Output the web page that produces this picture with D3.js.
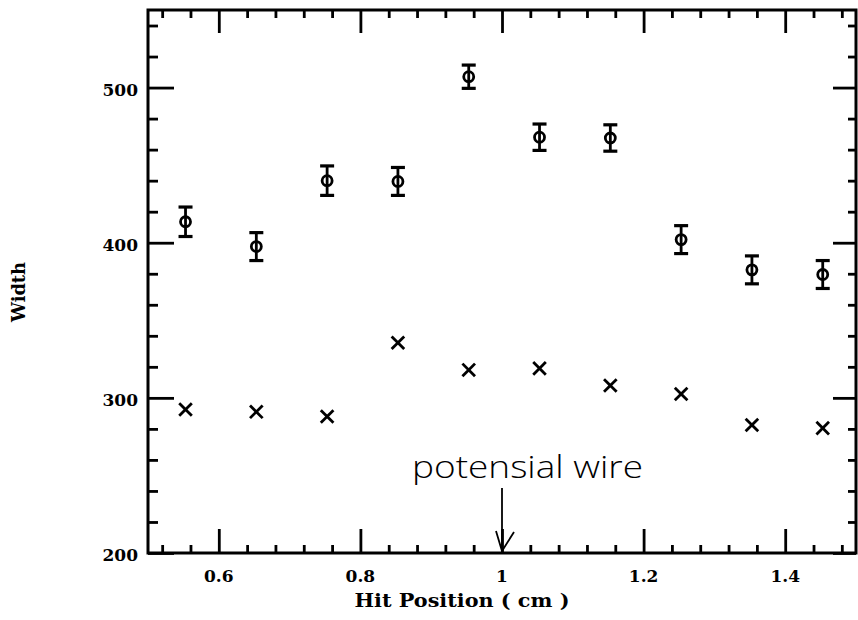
<!DOCTYPE html>
<html><head><meta charset="utf-8">
<script src="https://cdn.jsdelivr.net/npm/d3@7"></script>
<style>
html,body{margin:0;padding:0;background:#fff;}
svg{display:block;}
</style></head>
<body>
<script>
// ---- data ----
const hitPos = [0.553, 0.653, 0.753, 0.853, 0.953, 1.053, 1.153, 1.253, 1.353, 1.453];
const widthCircle = [413.5, 397.5, 440, 439.5, 507, 468, 467.5, 402, 382.5, 379.5];
const widthCircleErr = [9.5, 9, 9.5, 9, 7.5, 8.5, 8.5, 9, 9, 9];
const widthCross = [292.5, 291, 288, 335.5, 318, 319, 308, 302.5, 282.5, 280.5];
const xMajorTicks = [0.6, 0.8, 1.0, 1.2, 1.4];
const xTickLabels = ["0.6", "0.8", "1", "1.2", "1.4"];
const yMajorTicks = [200, 300, 400, 500];
const yTickLabels = ["200", "300", "400", "500"];
const xTitle = "Hit Position ( cm )";
const yTitle = "Width";
const annotation = "potensial wire";
const wireX = 1.0;

const W = 858, H = 620;
const x = d3.scaleLinear().domain([0.5, 1.5]).range([148, 856]);
const y = d3.scaleLinear().domain([200, 550]).range([553, 10]);

const svg = d3.select("body").append("svg").attr("width", W).attr("height", H);

const xMinor = d3.range(0.52, 1.5, 0.04).map(v => +v.toFixed(2)).filter(v => !xMajorTicks.some(m => Math.abs(m - v) < 1e-6));
const yMinor = d3.range(220, 550, 20).filter(v => !yMajorTicks.includes(v));

function styleAxis(g) {
  g.select(".domain").remove();
  g.selectAll(".tick line").attr("stroke", "#000").attr("stroke-width", 2.8);
  g.selectAll(".tick text").remove();
}
// bottom
svg.append("g").attr("transform", `translate(0,${y(200)})`)
  .call(d3.axisBottom(x).tickValues(xMajorTicks).tickSize(-24).tickFormat("")).call(styleAxis);
svg.append("g").attr("transform", `translate(0,${y(200)})`)
  .call(d3.axisBottom(x).tickValues(xMinor).tickSize(-8).tickFormat("")).call(styleAxis);
// top
svg.append("g").attr("transform", `translate(0,${y(550)})`)
  .call(d3.axisTop(x).tickValues(xMajorTicks).tickSize(-23).tickFormat("")).call(styleAxis);
svg.append("g").attr("transform", `translate(0,${y(550)})`)
  .call(d3.axisTop(x).tickValues(xMinor).tickSize(-8).tickFormat("")).call(styleAxis);
// left
svg.append("g").attr("transform", `translate(${x(0.5)},0)`)
  .call(d3.axisLeft(y).tickValues(yMajorTicks).tickSize(-26).tickFormat("")).call(styleAxis);
svg.append("g").attr("transform", `translate(${x(0.5)},0)`)
  .call(d3.axisLeft(y).tickValues(yMinor).tickSize(-10).tickFormat("")).call(styleAxis);
// right
svg.append("g").attr("transform", `translate(${x(1.5)},0)`)
  .call(d3.axisRight(y).tickValues(yMajorTicks).tickSize(-23).tickFormat("")).call(styleAxis);
svg.append("g").attr("transform", `translate(${x(1.5)},0)`)
  .call(d3.axisRight(y).tickValues(yMinor).tickSize(-8).tickFormat("")).call(styleAxis);

// frame
svg.append("rect")
  .attr("x", x(0.5)).attr("y", y(550))
  .attr("width", x(1.5) - x(0.5)).attr("height", y(200) - y(550))
  .attr("fill", "none").attr("stroke", "#000").attr("stroke-width", 3);

// tick labels
const labFont = "'DejaVu Serif', serif";
svg.append("g").selectAll("text").data(xMajorTicks).join("text")
  .attr("x", d => x(d)).attr("y", 582)
  .attr("text-anchor", "middle")
  .attr("font-family", labFont).attr("font-weight", "bold").attr("font-size", 17)
  .text((d, i) => xTickLabels[i]);
svg.append("g").selectAll("text").data(yMajorTicks).join("text")
  .attr("x", 138).attr("y", d => y(d) + 2)
  .attr("dy", "0.35em")
  .attr("text-anchor", "end")
  .attr("font-family", labFont).attr("font-weight", "bold").attr("font-size", 17)
  .text((d, i) => yTickLabels[i]);

// titles
svg.append("text").attr("x", 462).attr("y", 607)
  .attr("text-anchor", "middle")
  .attr("font-family", labFont).attr("font-weight", "bold").attr("font-size", 18)
  .attr("textLength", 215).attr("lengthAdjust", "spacingAndGlyphs")
  .text(xTitle);
svg.append("text").attr("transform", "translate(25,292) rotate(-90)")
  .attr("text-anchor", "middle")
  .attr("font-family", labFont).attr("font-weight", "bold").attr("font-size", 18)
  .attr("textLength", 60).attr("lengthAdjust", "spacingAndGlyphs")
  .text(yTitle);

// error bars + circles
const cap = 7;
const eg = svg.append("g").attr("stroke", "#000").attr("stroke-width", 2.8).attr("fill", "none");
hitPos.forEach((p, i) => {
  const cx = x(p), v = widthCircle[i], e = widthCircleErr[i];
  eg.append("line").attr("x1", cx).attr("x2", cx).attr("y1", y(v + e)).attr("y2", y(v - e));
  eg.append("line").attr("x1", cx - cap).attr("x2", cx + cap).attr("y1", y(v + e)).attr("y2", y(v + e)).attr("stroke-width", 3.2);
  eg.append("line").attr("x1", cx - cap).attr("x2", cx + cap).attr("y1", y(v - e)).attr("y2", y(v - e)).attr("stroke-width", 3.2);
  eg.append("circle").attr("cx", cx).attr("cy", y(v)).attr("r", 5).attr("stroke-width", 2.8);
});

// crosses
const cs = 6.3;
const cg = svg.append("g").attr("stroke", "#000").attr("stroke-width", 2.8);
hitPos.forEach((p, i) => {
  const cx = x(p), cy = y(widthCross[i]);
  cg.append("line").attr("x1", cx - cs).attr("x2", cx + cs).attr("y1", cy - cs).attr("y2", cy + cs);
  cg.append("line").attr("x1", cx - cs).attr("x2", cx + cs).attr("y1", cy + cs).attr("y2", cy - cs);
});

// annotation
svg.append("text").attr("x", 412).attr("y", 478)
  .attr("font-family", "'Open Sans', sans-serif").attr("font-size", 32).attr("font-weight", 300)
  .attr("textLength", 231).attr("lengthAdjust", "spacingAndGlyphs")
  .text(annotation);
const wx = x(wireX);
const ag = svg.append("g").attr("stroke", "#000").attr("stroke-width", 1.8).attr("fill", "none");
ag.append("line").attr("x1", wx).attr("x2", wx).attr("y1", 488).attr("y2", y(200) - 1);
ag.append("path").attr("d", `M${wx - 6},${531} L${wx},${y(200) - 2} L${wx + 12},${532}`);
</script>
</body></html>
